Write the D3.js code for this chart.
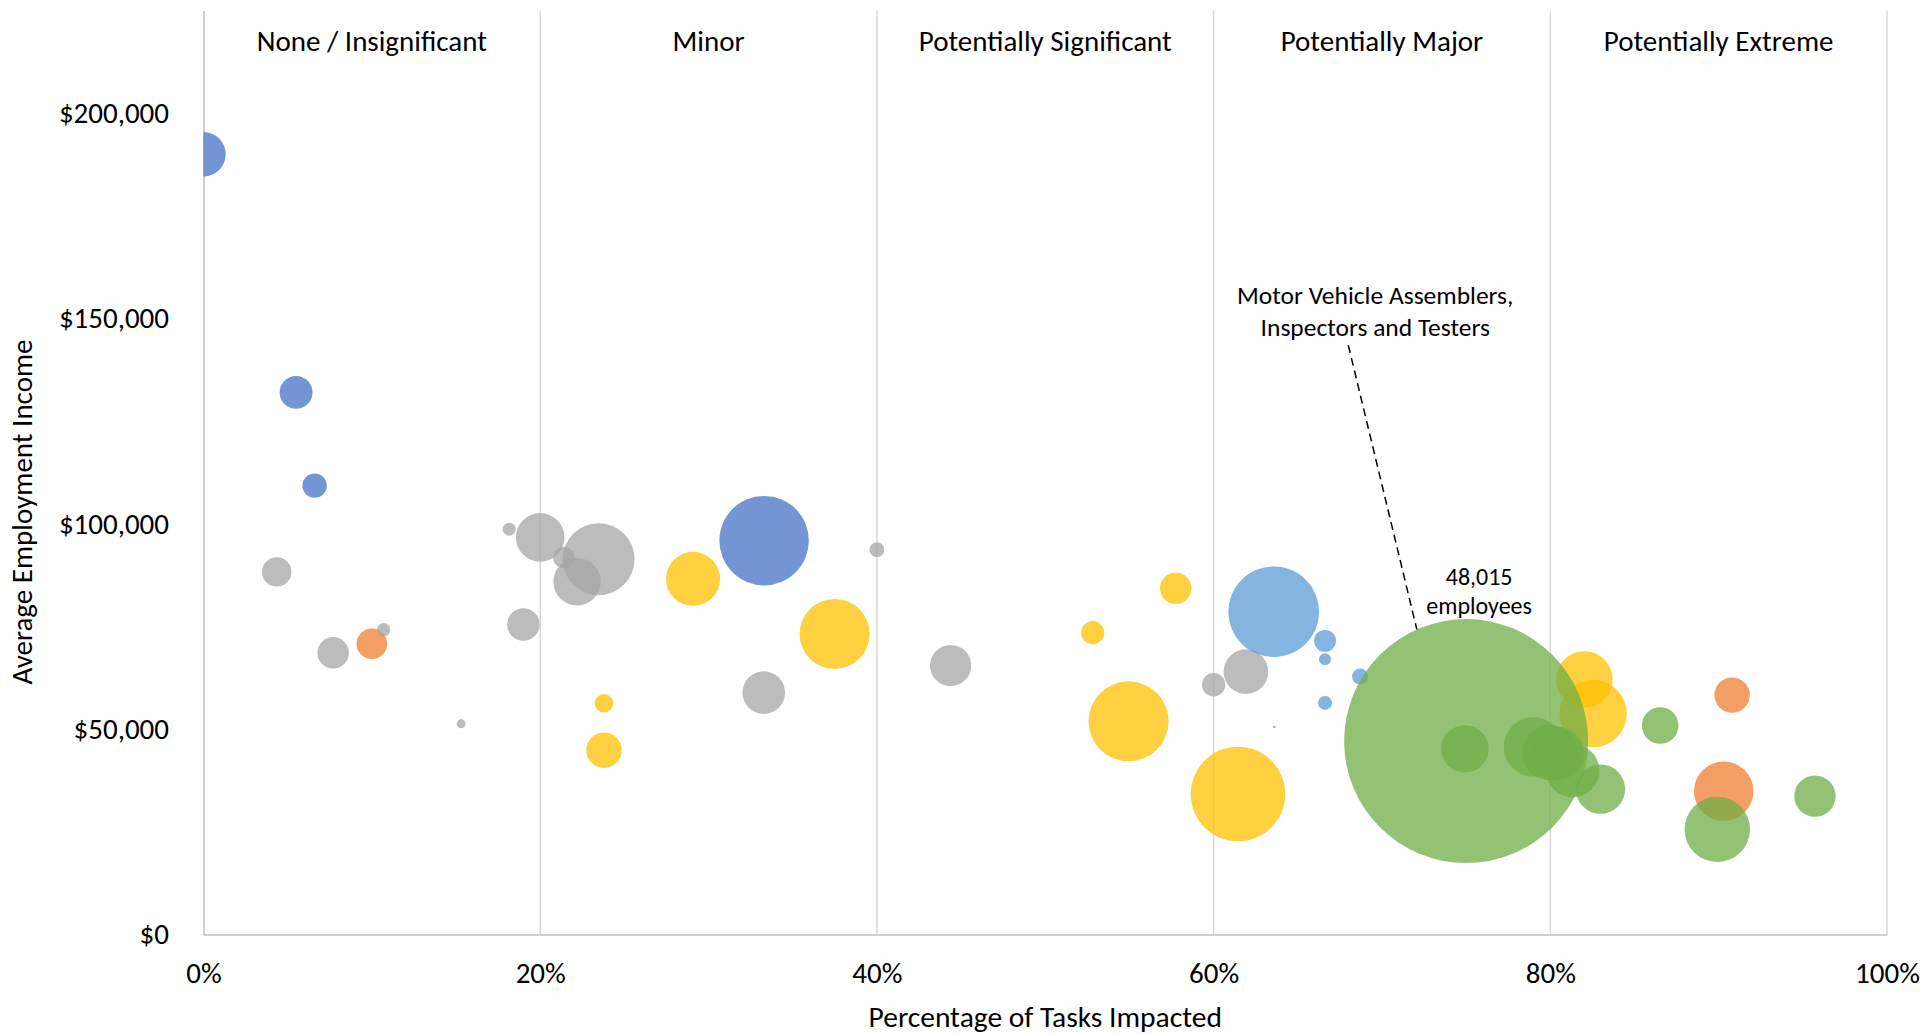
<!DOCTYPE html>
<meta charset="utf-8">
<style>

body {
  margin: 0;
  background: #fff;
}

text {
  font-family: Calibri, Carlito, Lato, sans-serif;
  fill: #000;
}

.axis path {
  stroke: #bfbfbf;
  stroke-width: 1.5px;
}

.axis text {
  font-size: 29px;
  fill: #000;
}

.grid line {
  stroke: #d9d9d9;
  stroke-width: 1.5px;
}

.zone {
  font-size: 29px;
  text-anchor: middle;
}

.bubble {
  fill-opacity: .75;
}

</style>
<svg width="1923" height="1034"></svg>
<script src="https://d3js.org/d3.v7.min.js"></script>
<script>

// impact zones along the x axis
var zoneNames = ["None / Insignificant", "Minor", "Potentially Significant", "Potentially Major", "Potentially Extreme"];
var zoneEdges = [0, 0.2, 0.4, 0.6, 0.8, 1];

var xTicks = [0, 0.2, 0.4, 0.6, 0.8, 1];
var yTicks = [0, 50000, 100000, 150000, 200000];

// series (Excel accent order) : share of tasks impacted, average income, employees
var seriesColors = ["#4472C4", "#ED7D31", "#A5A5A5", "#FFC000", "#5B9BD5", "#70AD47"];

var blueTasks = [0.000, 0.055, 0.066, 0.333];
var blueIncome = [190000, 132000, 109300, 95900];
var blueEmployees = [1590, 870, 480, 6450];

var orangeTasks = [0.100, 0.908, 0.903];
var orangeIncome = [70800, 58300, 34900];
var orangeEmployees = [755, 1010, 2850];

var grayTasks = [0.0435, 0.077, 0.107, 0.153, 0.1816, 0.200, 0.214, 0.2347, 0.2219, 0.190, 0.3328, 0.400, 0.4438, 0.600, 0.6192];
var grayIncome = [88300, 68600, 74200, 51300, 98700, 96700, 91800, 91400, 85900, 75500, 58900, 93700, 65500, 60800, 64000];
var grayEmployees = [697, 795, 145, 65, 136, 1905, 369, 4181, 1812, 857, 1464, 177, 1369, 442, 1604];

var goldTasks = [0.2908, 0.2379, 0.2379, 0.3749, 0.5775, 0.5282, 0.5495, 0.6145, 0.8202, 0.8254];
var goldIncome = [86600, 56300, 44900, 73200, 84300, 73500, 51900, 34200, 62100, 53800];
var goldEmployees = [2352, 279, 1010, 3952, 795, 434, 5161, 7217, 2584, 3664];

var lightBlueTasks = [0.6357, 0.6662, 0.6662, 0.6870, 0.6662, 0.6360];
var lightBlueIncome = [78600, 71500, 67000, 62800, 56400, 50500];
var lightBlueEmployees = [6620, 390, 116, 206, 158, 5];

var greenTasks = [0.750, 0.7493, 0.790, 0.7998, 0.8042, 0.8133, 0.8298, 0.8653, 0.8992, 0.9572];
var greenIncome = [47100, 45200, 45700, 44300, 44100, 39900, 35400, 50900, 25600, 33700];
var greenEmployees = [48015, 1812, 2846, 2475, 2300, 2300, 1968, 1080, 3450, 1382];

// callout for the largest occupation
var calloutLines = ["Motor Vehicle Assemblers,", "Inspectors and Testers"];
var calloutTask = 0.696, calloutIncome = 155700;
var leaderTask = 0.680, leaderIncome = 143500;

var series = [
  [blueTasks, blueIncome, blueEmployees],
  [orangeTasks, orangeIncome, orangeEmployees],
  [grayTasks, grayIncome, grayEmployees],
  [goldTasks, goldIncome, goldEmployees],
  [lightBlueTasks, lightBlueIncome, lightBlueEmployees],
  [greenTasks, greenIncome, greenEmployees]
];

var points = [];
series.forEach(function(s, i) {
  s[0].forEach(function(t, j) {
    points.push({series: i, tasks: t, income: s[1][j], employees: s[2][j]});
  });
});

var svg = d3.select("svg"),
    plotLeft = 203.5, plotRight = 1887, plotTop = 10.5, plotBottom = 934.5;

var x = d3.scaleLinear().domain([0, 1]).range([plotLeft, plotRight]);
var y = d3.scaleLinear().domain([0, 225000]).range([plotBottom, plotTop]);
var r = d3.scaleSqrt().domain([0, d3.max(points, function(d) { return d.employees; })]).range([0, 122]);

svg.append("defs").append("clipPath")
    .attr("id", "plot")
  .append("rect")
    .attr("x", plotLeft)
    .attr("y", plotTop)
    .attr("width", plotRight - plotLeft)
    .attr("height", plotBottom - plotTop);

// vertical gridlines
svg.append("g")
    .attr("class", "grid")
  .selectAll("line")
  .data(xTicks.slice(1))
  .enter().append("line")
    .attr("x1", function(d) { return x(d); })
    .attr("x2", function(d) { return x(d); })
    .attr("y1", plotTop)
    .attr("y2", plotBottom);

svg.append("g")
    .attr("class", "axis")
    .attr("transform", "translate(0," + plotBottom + ")")
    .call(d3.axisBottom(x).tickValues(xTicks).tickFormat(d3.format(".0%")).tickSize(0).tickSizeOuter(0).tickPadding(28));

svg.append("g")
    .attr("class", "axis")
    .attr("transform", "translate(" + plotLeft + ",0)")
    .call(d3.axisLeft(y).tickValues(yTicks).tickFormat(function(d) { return "$" + d3.format(",")(d); }).tickSize(0).tickSizeOuter(0).tickPadding(34.5));

svg.selectAll(".axis").attr("font-family", null).attr("font-size", null);

// zone headings
svg.append("g")
  .selectAll("text")
  .data(zoneNames)
  .enter().append("text")
    .attr("class", "zone")
    .attr("x", function(d, i) { return (x(zoneEdges[i]) + x(zoneEdges[i + 1])) / 2; })
    .attr("y", 41)
    .attr("dy", "0.35em")
    .text(function(d) { return d; });

// bubbles
svg.append("g")
    .attr("clip-path", "url(#plot)")
  .selectAll("circle")
  .data(points)
  .enter().append("circle")
    .attr("class", "bubble")
    .attr("cx", function(d) { return x(d.tasks); })
    .attr("cy", function(d) { return y(d.income); })
    .attr("r", function(d) { return r(d.employees); })
    .style("fill", function(d) { return seriesColors[d.series]; });

// axis titles
svg.append("text")
    .attr("x", (plotLeft + plotRight) / 2)
    .attr("y", 1017)
    .attr("dy", "0.35em")
    .attr("text-anchor", "middle")
    .style("font-size", "29.5px")
    .text("Percentage of Tasks Impacted");

svg.append("text")
    .attr("transform", "translate(22,512) rotate(-90)")
    .attr("dy", "0.35em")
    .attr("text-anchor", "middle")
    .style("font-size", "29px")
    .text("Average Employment Income");

// callout on the biggest bubble
var biggest = d3.greatest(points, function(d) { return d.employees; });
var bx = x(biggest.tasks), by = y(biggest.income), br = r(biggest.employees);

svg.append("text")
    .attr("x", x(calloutTask))
    .attr("y", y(calloutIncome))
    .attr("text-anchor", "middle")
    .style("font-size", "25.5px")
  .selectAll("tspan")
  .data(calloutLines)
  .enter().append("tspan")
    .attr("x", x(calloutTask))
    .attr("dy", function(d, i) { return i ? 31.7 : "0.35em"; })
    .text(function(d) { return d; });

svg.append("line")
    .attr("x1", x(leaderTask))
    .attr("y1", y(leaderIncome))
    .attr("x2", bx - br * 0.404)
    .attr("y2", by - br * 0.915)
    .style("stroke", "#000")
    .style("stroke-width", 1.5)
    .style("stroke-dasharray", "8,5");

svg.append("text")
    .attr("x", bx + 13)
    .attr("y", by - br - 42)
    .attr("text-anchor", "middle")
    .style("font-size", "24px")
  .selectAll("tspan")
  .data([d3.format(",")(biggest.employees), "employees"])
  .enter().append("tspan")
    .attr("x", bx + 13)
    .attr("dy", function(d, i) { return i ? 29 : "0.35em"; })
    .text(function(d) { return d; });

</script>
